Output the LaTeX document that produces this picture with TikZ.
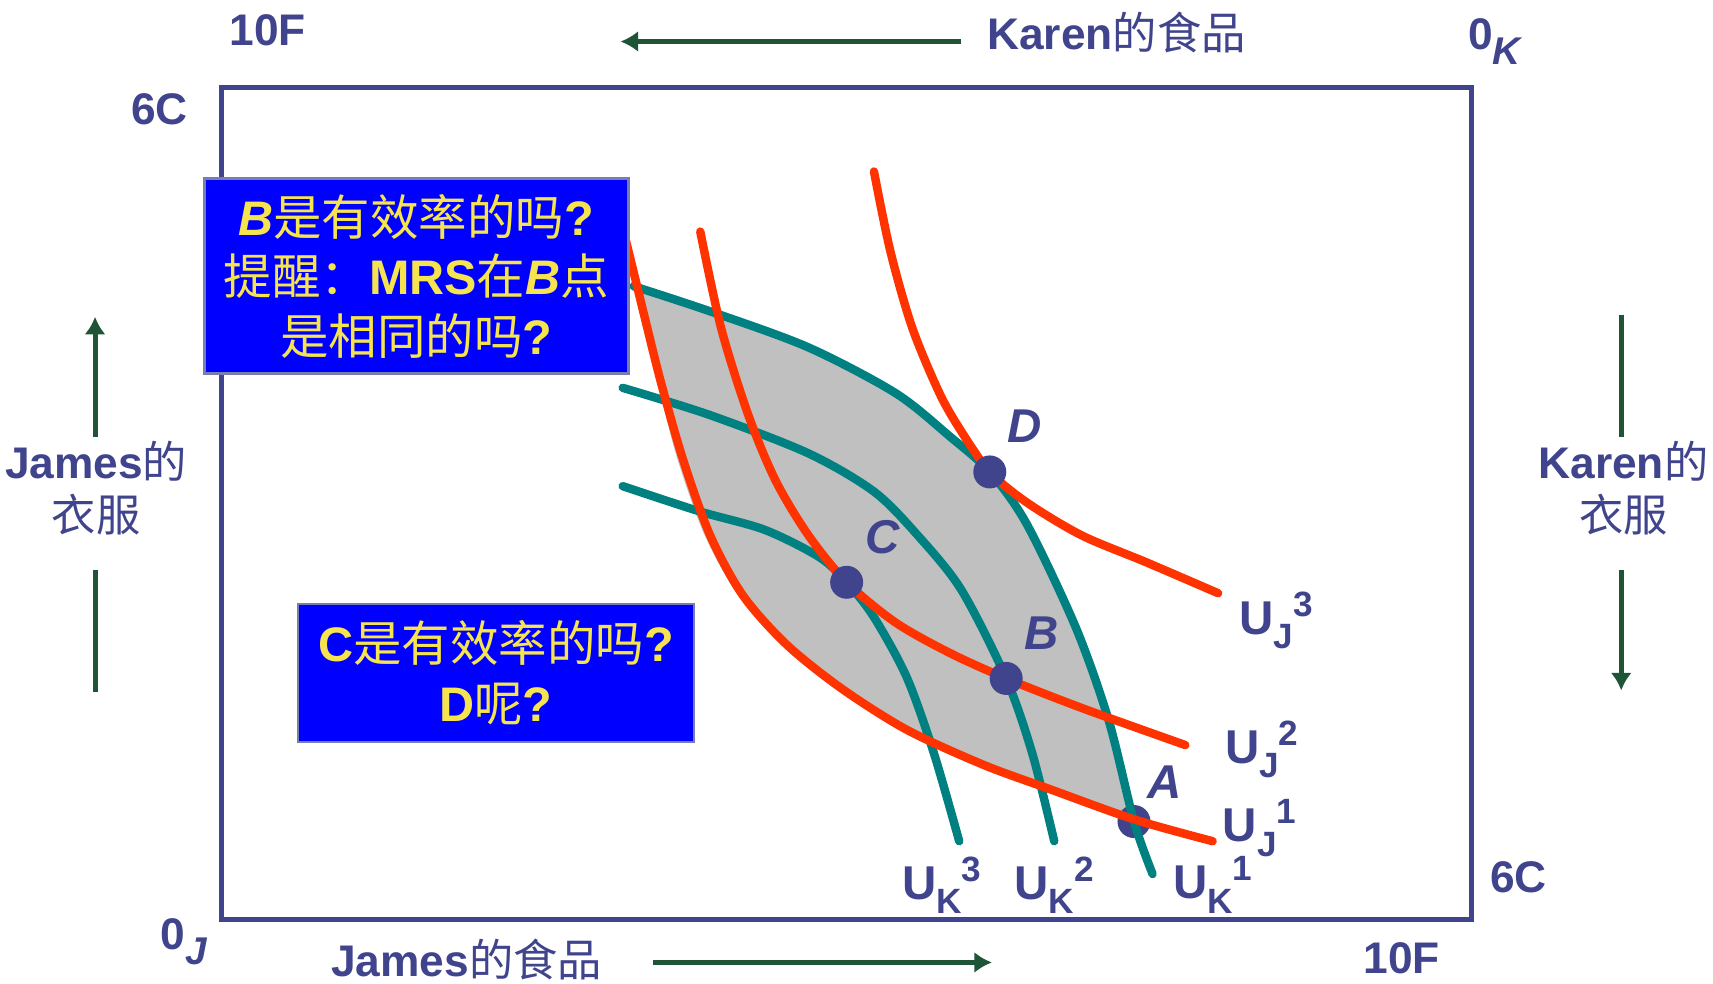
\documentclass[tikz,border=0pt]{standalone}
\usepackage{fontspec}
\setmainfont{Liberation Sans}
\newfontfamily\zhfont{Noto Sans CJK SC}
\usepackage{tikz}
\usetikzlibrary{arrows.meta}
\definecolor{navy}{RGB}{64, 68, 140}
\definecolor{ukteal}{RGB}{0, 128, 128}
\definecolor{ujred}{RGB}{255, 51, 0}
\definecolor{lensgray}{RGB}{192, 192, 192}
\definecolor{boxblue}{RGB}{0, 0, 255}
\definecolor{hintyellow}{RGB}{245, 228, 80}
\definecolor{arrowgreen}{RGB}{30, 85, 55}
\newcommand{\zhtxt}[1]{{\zhfont\mdseries #1}}
\newcommand{\ulabel}[2]{U\raisebox{-.3em}{\fontsize{10}{10}\selectfont #1}\raisebox{.38em}{\fontsize{10}{10}\selectfont #2}}

\begin{document}
\begin{tikzpicture}[x=0.010925cm, y=-0.010925cm,
  every node/.style={font=\bfseries\fontsize{12.6}{15}\selectfont, text=navy},
  axisarrow/.style={draw=arrowgreen, line width=1.4pt, -{Latex[length=5pt,width=6pt]}},
  axisline/.style={draw=arrowgreen, line width=1.4pt},
  ukline/.style={draw=ukteal, line width=2.4pt, line cap=round},
  ujline/.style={draw=ujred, line width=2.4pt, line cap=round},
  dot/.style={circle, fill=navy, inner sep=0pt, minimum size=0.33cm},
  ptlbl/.style={font=\bfseries\itshape\fontsize{13.5}{15}\selectfont},
  ulbl/.style={font=\bfseries\fontsize{13.5}{15}\selectfont},
  qbox/.style={draw=navy!70, line width=0.8pt, fill=boxblue, text=hintyellow, align=center,
    font=\bfseries\fontsize{13.8}{17}\selectfont}]
  \useasboundingbox (0,0) rectangle (1568,900);

  % lens between U_K^1 and U_J^1
  \fill[lensgray] plot[smooth] coordinates {(580,258) (650,285) (740,318) (820,360) (870,400) (906,432) (940,480) (985,575) (1015,660) (1038,752)}
    -- plot[smooth] coordinates {(1038,750) (960,722) (900,700) (830,668) (770,630) (720,590) (676,545) (645,490) (620,420) (602,350) (588,290) (580,258)} -- cycle;
  \node[dot] (A) at (1038,752) {};

  % Karen's indifference curves
  \draw[ukline] plot[smooth] coordinates {(580,262) (650,285) (740,318) (820,360) (870,400) (906,432) (940,480) (985,575) (1015,660) (1038,752) (1055,800)};
  \draw[ukline] plot[smooth] coordinates {(570,355) (650,380) (740,415) (800,450) (840,490) (880,540) (921,621) (945,690) (965,770)};
  \draw[ukline] plot[smooth] coordinates {(570,445) (640,468) (700,485) (750,510) (775,533) (800,565) (830,620) (855,690) (878,770)};
  % James's indifference curves
  \draw[ujline] plot[smooth] coordinates {(568,200) (590,290) (605,350) (625,420) (650,490) (680,545) (720,590) (770,630) (830,668) (900,700) (960,722) (1038,750) (1110,770)};
  \draw[ujline] plot[smooth] coordinates {(641,212) (660,300) (685,380) (710,440) (740,490) (775,533) (820,570) (870,598) (921,621) (990,648) (1085,682)};
  \draw[ujline] plot[smooth] coordinates {(800,157) (815,230) (835,300) (860,360) (880,395) (906,432) (940,460) (990,490) (1050,515) (1115,543)};

  \node[dot] (D) at (906,432) {};
  \node[dot] (C) at (775,533) {};
  \node[dot] (B) at (921,621) {};
  \node[ptlbl] (Dlbl) at (938,390) {D};
  \node[ptlbl] (Clbl) at (808,492) {C};
  \node[ptlbl] (Blbl) at (953,580) {B};
  \node[ptlbl] (Albl) at (1066,716) {A};

  \node[ulbl] (uj3) at (1168,568) {\ulabel{J}{3}};
  \node[ulbl] (uj2) at (1155,686) {\ulabel{J}{2}};
  \node[ulbl] (uj1) at (1153,758) {\ulabel{J}{1}};
  \node[ulbl] (uk3) at (862,810) {\ulabel{K}{3}};
  \node[ulbl] (uk2) at (965,810) {\ulabel{K}{2}};
  \node[ulbl] (uk1) at (1110,810) {\ulabel{K}{1}};

  % Edgeworth box
  \draw[navy, line width=1.5pt] (203,80) rectangle (1347,842);

  \node[qbox, minimum width=4.24cm, minimum height=1.95cm] (q1) at (381,253)
    {\textit{B}\zhtxt{是有效率的吗}?\\\zhtxt{提醒：}MRS\zhtxt{在}\textit{B}\zhtxt{点}\\\zhtxt{是相同的吗}?};
  \node[qbox, minimum width=3.96cm, minimum height=1.38cm] (q2) at (454,616)
    {C\zhtxt{是有效率的吗}?\\D\zhtxt{呢}?};

  % corner and axis labels
  \node (tl) at (245,28) {10F};
  \node (kfood) at (1022,30) {Karen\zhtxt{的食品}};
  \node (ok) at (1368,38) {0\raisebox{-.35em}{\itshape\fontsize{11}{11}\selectfont K}};
  \node (lc) at (146,100) {6C};
  \node (rc) at (1390,803) {6C};
  \node (oj) at (168,862) {0\raisebox{-.35em}{\itshape\fontsize{11}{11}\selectfont J}};
  \node (jfood) at (427,878) {James\zhtxt{的食品}};
  \node (br) at (1283,877) {10F};
  \node[align=center] (jcloth) at (88,447) {James\zhtxt{的}\\\zhtxt{衣服}};
  \node[align=center] (kcloth) at (1486,447) {Karen\zhtxt{的}\\\zhtxt{衣服}};

  \coordinate (kf1) at (880,38);
  \coordinate (kf2) at (568,38);
  \coordinate (jf1) at (598,881);
  \coordinate (jf2) at (908,881);
  \coordinate (jc1) at (87,400);
  \coordinate (jc2) at (87,290);
  \coordinate (jc3) at (87,522);
  \coordinate (jc4) at (87,633);
  \coordinate (kc1) at (1484,288);
  \coordinate (kc2) at (1484,400);
  \coordinate (kc3) at (1484,522);
  \coordinate (kc4) at (1484,632);
  \draw[axisarrow] (kf1) -- (kf2);
  \draw[axisarrow] (jf1) -- (jf2);
  \draw[axisarrow] (jc1) -- (jc2);
  \draw[axisline] (jc3) -- (jc4);
  \draw[axisline] (kc1) -- (kc2);
  \draw[axisarrow] (kc3) -- (kc4);
\end{tikzpicture}
\end{document}
